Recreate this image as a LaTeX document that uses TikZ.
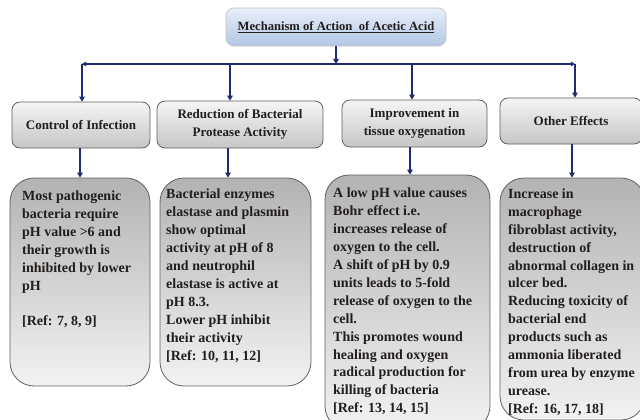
\documentclass[tikz,border=0pt]{standalone}
\usepackage{fontspec}
\setmainfont{Liberation Serif}
\usetikzlibrary{arrows.meta}
\definecolor{navy}{RGB}{32,42,112}
\definecolor{titletop}{RGB}{232,239,249}
\definecolor{titlebot}{RGB}{178,198,228}
\definecolor{txt}{RGB}{34,30,28}
\begin{document}
\begin{tikzpicture}[x=1pt,y=-1pt,
  conn/.style={draw=navy,line width=1.6pt,-{Triangle[length=5pt,width=5.5pt]}},
  hline/.style={draw=navy,line width=1.6pt,{Triangle[length=4pt,width=4.5pt]}-{Triangle[length=4pt,width=4.5pt]}},
  titlebox/.style={draw=gray!50,line width=0.6pt,rounded corners=8pt,top color=titletop,bottom color=titlebot,
    minimum width=220pt,minimum height=38pt,inner sep=0pt,text=txt,
    font=\fontsize{12.6}{14}\selectfont\bfseries},
  headbox/.style={draw=gray!75!black,line width=0.8pt,rounded corners=8pt,top color=gray!8,bottom color=gray!45,
    inner sep=0pt,text=txt,align=center,font=\fontsize{13}{18}\selectfont\bfseries},
  bodybox/.style={draw=gray!75!black,line width=0.8pt,rounded corners=24pt,top color=gray!60,bottom color=gray!10,
    inner sep=0pt},
  bodytxt/.style={anchor=north west,inner sep=0pt,align=left,text=txt,
    font=\fontsize{14}{17.9}\selectfont\bfseries}]
\useasboundingbox (0,0) rectangle (640,420);
\fill[white] (0,0) rectangle (640,420);

% title
\node[titlebox] (title) at (336,27) {\underline{Mechanism of Action\ \ of Acetic Acid}};
\coordinate (hub) at (336,64);
\coordinate (hl) at (82,64);
\coordinate (hr) at (575,64);
\coordinate (a2) at (230,64);
\coordinate (a3) at (412,64);

% level 2
\node[headbox,minimum width=138pt,minimum height=46pt] (h1) at (81,125) {Control of Infection};
\node[headbox,minimum width=166pt,minimum height=47pt] (h2) at (240,124.5) {Reduction of Bacterial\\Protease Activity};
\node[headbox,minimum width=145pt,minimum height=47pt] (h3) at (414.5,123.5) {Improvement in\\tissue oxygenation};
\node[headbox,minimum width=142pt,minimum height=46pt] (h4) at (571,121) {Other Effects};

% level 3
\node[bodybox,minimum width=140pt,minimum height=208pt] (b1) at (80,282) {};
\node[bodybox,minimum width=151pt,minimum height=208pt] (b2) at (235.5,282) {};
\node[bodybox,minimum width=165pt,minimum height=255pt] (b3) at (407.5,302.5) {};
\node[bodybox,minimum width=145pt,minimum height=242pt] (b4) at (572.5,299) {};

\node[bodytxt] (t1) at (22,191) {Most pathogenic\\bacteria require\\pH value >6 and\\their growth is\\inhibited by lower\\pH\\[17pt]{[Ref: 7, 8, 9]}};
\node[bodytxt] (t2) at (166,189) {Bacterial enzymes\\elastase and plasmin\\show optimal\\activity at pH of 8\\and neutrophil\\elastase is active at\\pH 8.3.\\Lower pH inhibit\\their activity\\{[Ref: 10, 11, 12]}};
\node[bodytxt] (t3) at (333,188) {A low pH value causes\\Bohr effect i.e.\\increases release of\\oxygen to the cell.\\A shift of pH by 0.9\\units leads to 5-fold\\release of oxygen to the\\cell.\\This promotes wound\\healing and oxygen\\radical production for\\killing of bacteria\\{[Ref: 13, 14, 15]}};
\node[bodytxt] (t4) at (508,188.5) {Increase in\\macrophage\\fibroblast activity,\\destruction of\\abnormal collagen in\\ulcer bed.\\Reducing toxicity of\\bacterial end\\products such as\\ammonia liberated\\from urea by enzyme\\urease.\\{[Ref: 16, 17, 18]}};

% connectors
\draw[conn] (title.south) -- (hub);
\draw[hline] (hl) -- (hr);
\draw[conn] (hl) -- (hl |- h1.north);
\draw[conn] (a2) -- (a2 |- h2.north);
\draw[conn] (a3) -- (a3 |- h3.north);
\draw[conn] (hr) -- (hr |- h4.north);

\coordinate (c1) at (80,0);
\coordinate (c2) at (228,0);
\coordinate (c3) at (410,0);
\coordinate (c4) at (572,0);
\draw[conn] (c1 |- h1.south) -- (c1 |- b1.north);
\draw[conn] (c2 |- h2.south) -- (c2 |- b2.north);
\draw[conn] (c3 |- h3.south) -- (c3 |- b3.north);
\draw[conn] (c4 |- h4.south) -- (c4 |- b4.north);
\end{tikzpicture}
\end{document}
